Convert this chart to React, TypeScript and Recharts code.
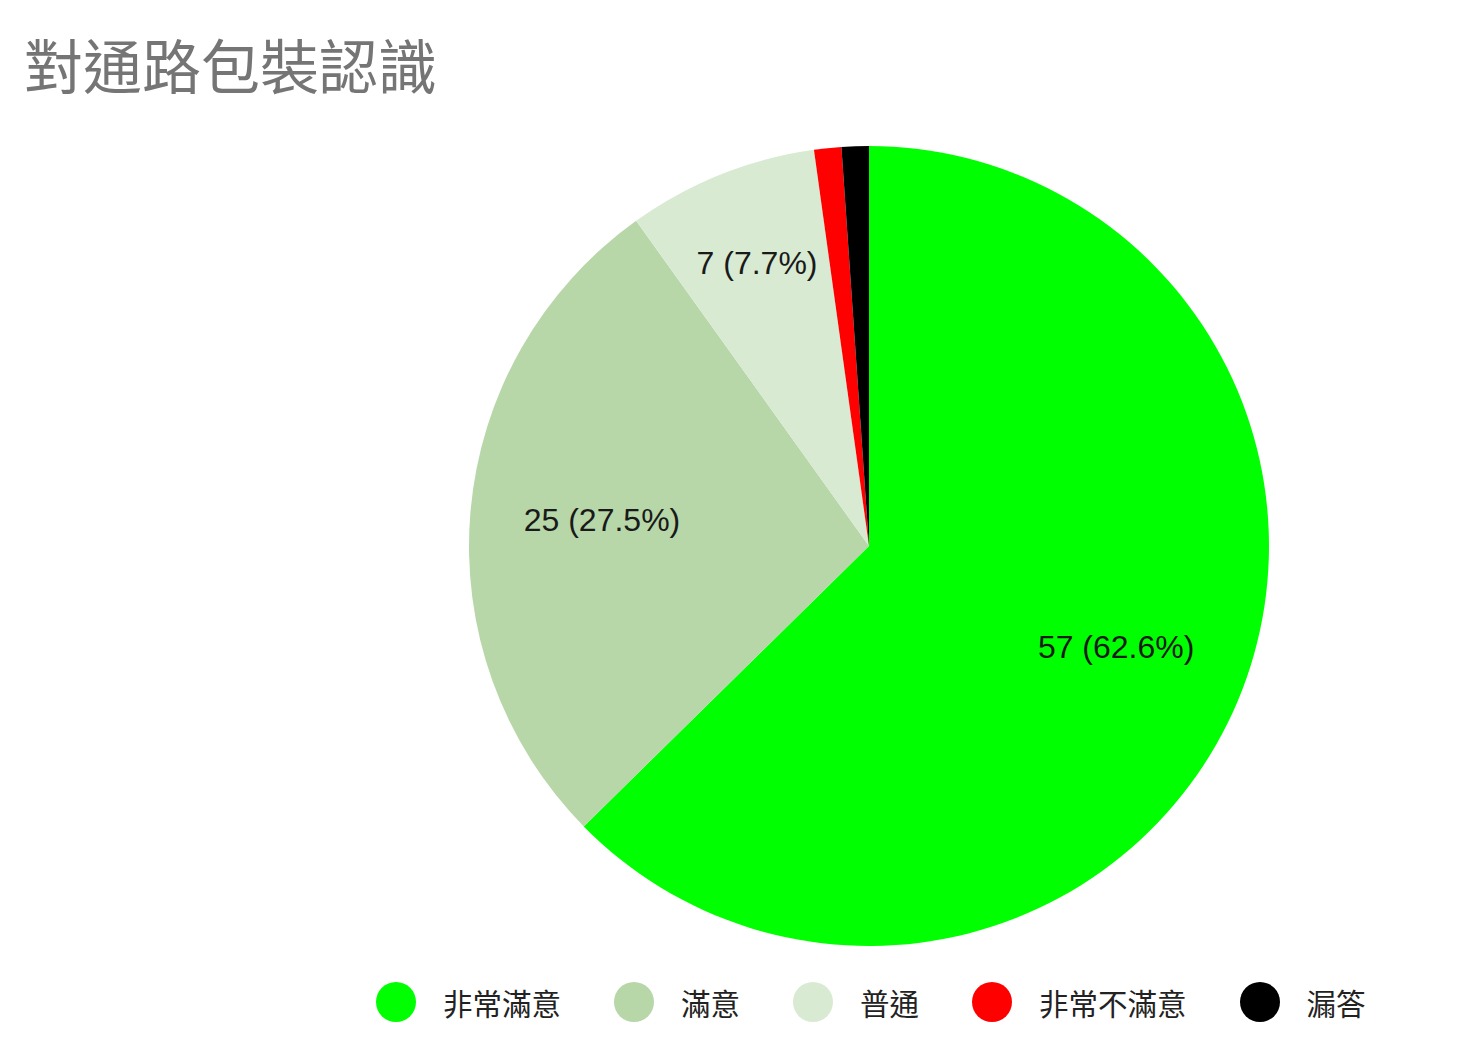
import { Cell, Legend, Pie, PieChart } from 'recharts'

const categories = ['非常滿意', '滿意', '普通', '非常不滿意', '漏答']
const counts = [57, 25, 7, 1, 1]
const sliceColors = ['#00ff00', '#b7d7a8', '#d9ead3', '#ff0000', '#000000']

const title = '對通路包裝認識'

const total = counts.reduce((a, b) => a + b, 0)
const rows = categories.map((name, i) => ({ name, value: counts[i] }))

const RAD = Math.PI / 180

function SliceLabel(props: any) {
  const { cx, cy, midAngle, outerRadius, value } = props
  const share = value / total
  if (share < 0.05) return null
  // narrow slices get their label pushed further out, like the sheets chart does
  const r = outerRadius * (share < 0.1 ? 0.755 : 0.67)
  const x = cx + r * Math.cos(-midAngle * RAD)
  const y = cy + r * Math.sin(-midAngle * RAD) - 3
  return (
    <text
      x={x}
      y={y}
      textAnchor="middle"
      dominantBaseline="central"
      fill="#1a1a1a"
      fontSize={32}
      fontFamily="'Liberation Sans', Arial, sans-serif"
    >
      {`${value} (${(share * 100).toFixed(1)}%)`}
    </text>
  )
}

function LegendRow() {
  return (
    <div style={{ display: 'flex', alignItems: 'center', fontFamily: "'Noto Sans CJK TC', sans-serif" }}>
      {categories.map((name, i) => (
        <div key={name} style={{ display: 'flex', alignItems: 'center', marginRight: i < categories.length - 1 ? 53 : 0 }}>
          <span
            style={{
              width: 40,
              height: 40,
              borderRadius: '50%',
              background: sliceColors[i],
              display: 'inline-block',
              marginRight: 27,
            }}
          />
          <span style={{ fontSize: 29.5, color: '#222', lineHeight: '40px' }}>{name}</span>
        </div>
      ))}
    </div>
  )
}

export default function App() {
  return (
    <div style={{ position: 'absolute', left: 0, top: 0, width: 1483, height: 1046, background: '#fff' }}>
      <div
        style={{
          position: 'absolute',
          left: 24,
          top: 32,
          fontSize: 59,
          lineHeight: '64px',
          color: '#757575',
          fontFamily: "'Noto Sans CJK TC', sans-serif",
          whiteSpace: 'nowrap',
        }}
      >
        {title}
      </div>
      <PieChart
        width={1483}
        height={1046}
        margin={{ top: 0, right: 0, bottom: 0, left: 0 }}
        style={{ position: 'absolute', left: 0, top: 0 }}
      >
        <Pie
          data={rows}
          dataKey="value"
          nameKey="name"
          cx={869}
          cy={546}
          outerRadius={400}
          startAngle={90}
          endAngle={-270}
          stroke="none"
          label={SliceLabel}
          labelLine={false}
          isAnimationActive={false}
        >
          {rows.map((row, i) => (
            <Cell key={row.name} fill={sliceColors[i]} />
          ))}
        </Pie>
        <Legend
          content={() => <LegendRow />}
          wrapperStyle={{ position: 'absolute', left: 376, top: 982, width: 'auto' }}
        />
      </PieChart>
    </div>
  )
}
